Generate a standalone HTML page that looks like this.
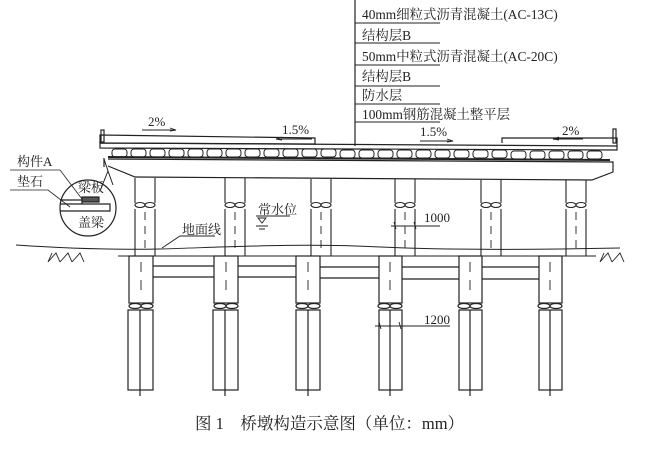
<!DOCTYPE html>
<html><head><meta charset="utf-8"><style>
body{margin:0;background:#fff}
svg{display:block}
text{font-family:"Liberation Serif","Noto Serif CJK SC",serif;fill:#222}
</style></head><body>
<svg width="650" height="449" viewBox="0 0 650 449" xmlns="http://www.w3.org/2000/svg" stroke="#222" fill="none" stroke-width="1.2">
<line x1="355" y1="0" x2="355" y2="146"/>
<g stroke-width="1">
<line x1="355" y1="23" x2="440" y2="23"/>
<line x1="355" y1="43" x2="440" y2="43"/>
<line x1="355" y1="65" x2="440" y2="65"/>
<line x1="355" y1="86" x2="440" y2="86"/>
<line x1="355" y1="104" x2="440" y2="104"/>
<line x1="355" y1="122" x2="440" y2="122"/>
</g>
<g stroke="none" font-size="13.4">
<text x="362" y="19">40mm细粒式沥青混凝土(AC-13C)</text>
<text x="362" y="40">结构层B</text>
<text x="362" y="61">50mm中粒式沥青混凝土(AC-20C)</text>
<text x="362" y="81">结构层B</text>
<text x="362" y="100">防水层</text>
<text x="362" y="119">100mm钢筋混凝土整平层</text>
</g>
<g stroke="none" font-size="13">
<text x="148" y="126">2%</text>
<text x="282" y="134">1.5%</text>
<text x="420" y="136">1.5%</text>
<text x="562" y="135">2%</text>
</g>
<g stroke-width="0.9">
<line x1="142" y1="130" x2="176" y2="130"/><path d="M170,128 L176,130 L170,131"/>
<line x1="276" y1="139" x2="312" y2="139"/><path d="M282,137 L276,139 L282,140"/>
<line x1="420" y1="141" x2="453" y2="141"/><path d="M447,139 L453,141 L447,142"/>
<line x1="553" y1="139" x2="583" y2="139"/><path d="M559,137 L553,139 L559,140"/>
</g>
<rect x="101" y="130" width="3" height="12"/>
<rect x="613" y="129" width="3" height="14"/>
<path d="M100,135 L315,138 L315,144 L100,143 Z"/>
<path d="M502,143 L502,138 L617,138 L617,146"/>
<path d="M100,143 L617,146 L617,150 L100,148 Z"/>
<line x1="108" y1="157" x2="610" y2="160" stroke-width="2"/>
<g stroke-width="1">
<rect x="112" y="149" width="15" height="8" rx="3"/><rect x="131" y="149" width="15" height="8" rx="3"/><rect x="150" y="149" width="15" height="8" rx="3"/><rect x="169" y="149" width="15" height="8" rx="3"/><rect x="188" y="149" width="15" height="8" rx="3"/><rect x="207" y="149" width="15" height="8" rx="3"/><rect x="226" y="149" width="15" height="8" rx="3"/><rect x="245" y="149" width="15" height="8" rx="3"/><rect x="264" y="149" width="15" height="8" rx="3"/><rect x="283" y="149" width="15" height="8" rx="3"/><rect x="302" y="149" width="15" height="8" rx="3"/><rect x="321" y="149" width="15" height="8" rx="3"/><rect x="340" y="150" width="15" height="8" rx="3"/><rect x="359" y="150" width="15" height="8" rx="3"/><rect x="378" y="150" width="15" height="8" rx="3"/><rect x="397" y="150" width="15" height="8" rx="3"/><rect x="416" y="150" width="15" height="8" rx="3"/><rect x="435" y="150" width="15" height="8" rx="3"/><rect x="454" y="150" width="15" height="8" rx="3"/><rect x="473" y="150" width="15" height="8" rx="3"/><rect x="492" y="150" width="15" height="8" rx="3"/><rect x="511" y="151" width="15" height="8" rx="3"/><rect x="530" y="151" width="15" height="8" rx="3"/><rect x="549" y="151" width="15" height="8" rx="3"/><rect x="568" y="151" width="15" height="8" rx="3"/><rect x="587" y="151" width="15" height="8" rx="3"/>
</g>
<path d="M104,158 L104,167 M108,159 L613,162 L613,172 L592,180 L135,177 L108,166"/>
<g stroke-width="1.1">
<g transform="translate(145,0)"><path d="M-10,178 V203 M10,178 V203 M-10,209 V256 M10,209 V256"/><ellipse cx="-5" cy="205" rx="5" ry="2.5"/><ellipse cx="5" cy="205" rx="5" ry="2.5"/><path d="M0,212 v8 M0,226 v8 M0,240 v8" stroke-width="0.9"/></g>
<g transform="translate(235,0)"><path d="M-10,178 V203 M10,178 V203 M-10,209 V256 M10,209 V256"/><ellipse cx="-5" cy="205" rx="5" ry="2.5"/><ellipse cx="5" cy="205" rx="5" ry="2.5"/><path d="M0,212 v8 M0,226 v8 M0,240 v8" stroke-width="0.9"/></g>
<g transform="translate(321,0)"><path d="M-10,179 V203 M10,179 V203 M-10,209 V256 M10,209 V256"/><ellipse cx="-5" cy="205" rx="5" ry="2.5"/><ellipse cx="5" cy="205" rx="5" ry="2.5"/><path d="M0,212 v8 M0,226 v8 M0,240 v8" stroke-width="0.9"/></g>
<g transform="translate(405,0)"><path d="M-10,179 V203 M10,179 V203 M-10,209 V256 M10,209 V256"/><ellipse cx="-5" cy="205" rx="5" ry="2.5"/><ellipse cx="5" cy="205" rx="5" ry="2.5"/><path d="M0,212 v8 M0,226 v8 M0,240 v8" stroke-width="0.9"/></g>
<g transform="translate(491,0)"><path d="M-10,180 V203 M10,180 V203 M-10,209 V256 M10,209 V256"/><ellipse cx="-5" cy="205" rx="5" ry="2.5"/><ellipse cx="5" cy="205" rx="5" ry="2.5"/><path d="M0,212 v8 M0,226 v8 M0,240 v8" stroke-width="0.9"/></g>
<g transform="translate(576,0)"><path d="M-10,180 V203 M10,180 V203 M-10,209 V256 M10,209 V256"/><ellipse cx="-5" cy="205" rx="5" ry="2.5"/><ellipse cx="5" cy="205" rx="5" ry="2.5"/><path d="M0,212 v8 M0,226 v8 M0,240 v8" stroke-width="0.9"/></g>
</g>
<g stroke-width="1.2">
<g transform="translate(141,0)"><rect x="-12" y="256" width="24" height="47"/><ellipse cx="-6" cy="306" rx="6" ry="2.5"/><ellipse cx="6" cy="306" rx="6" ry="2.5"/><rect x="-13" y="310" width="25" height="80"/><line x1="-1" y1="310" x2="-1" y2="396"/><path d="M0,262 v10 M0,280 v10" stroke-width="0.9"/></g>
<g transform="translate(226,0)"><rect x="-12" y="256" width="24" height="47"/><ellipse cx="-6" cy="306" rx="6" ry="2.5"/><ellipse cx="6" cy="306" rx="6" ry="2.5"/><rect x="-13" y="310" width="25" height="80"/><line x1="-1" y1="310" x2="-1" y2="396"/><path d="M0,262 v10 M0,280 v10" stroke-width="0.9"/></g>
<g transform="translate(308,0)"><rect x="-12" y="256" width="24" height="47"/><ellipse cx="-6" cy="306" rx="6" ry="2.5"/><ellipse cx="6" cy="306" rx="6" ry="2.5"/><rect x="-12" y="310" width="24" height="80"/><line x1="0" y1="310" x2="0" y2="396"/><path d="M0,262 v10 M0,280 v10" stroke-width="0.9"/></g>
<g transform="translate(390,0)"><rect x="-11" y="256" width="23" height="47"/><ellipse cx="-6" cy="306" rx="6" ry="2.5"/><ellipse cx="6" cy="306" rx="6" ry="2.5"/><rect x="-11" y="310" width="23" height="80"/><line x1="0" y1="310" x2="0" y2="396"/><path d="M0,262 v10 M0,280 v10" stroke-width="0.9"/></g>
<g transform="translate(470,0)"><rect x="-11" y="256" width="23" height="47"/><ellipse cx="-6" cy="306" rx="6" ry="2.5"/><ellipse cx="6" cy="306" rx="6" ry="2.5"/><rect x="-11" y="310" width="23" height="80"/><line x1="0" y1="310" x2="0" y2="396"/><path d="M0,262 v10 M0,280 v10" stroke-width="0.9"/></g>
<g transform="translate(550,0)"><rect x="-11" y="256" width="23" height="47"/><ellipse cx="-6" cy="306" rx="6" ry="2.5"/><ellipse cx="6" cy="306" rx="6" ry="2.5"/><rect x="-11" y="310" width="23" height="80"/><line x1="0" y1="310" x2="0" y2="396"/><path d="M0,262 v10 M0,280 v10" stroke-width="0.9"/></g>
</g>
<path d="M153,266 H214 M153,277 H214 M238,266 H296 M238,277 H296 M320,267 H379 M320,278 H379 M402,267 H459 M402,279 H459 M482,267 H539 M482,279 H539"/>
<path d="M16,245 C60,248 110,250 160,249 C230,247 300,243 380,247 C440,250 520,250 620,248" stroke-width="1"/>
<path d="M118,256 H596" stroke-width="1"/>
<g stroke-width="0.9">
<path d="M48,262 L56,253 L60,262 M60,262 L68,253 L72,262 M72,262 L80,253 L84,262 M52,253 L48,262"/>
<path d="M600,262 L608,253 L612,262 M612,262 L620,253 L624,262 M604,253 L600,262"/>
</g>
<circle cx="88" cy="208" r="28"/>
<path d="M60,200 H86 M60,204 H82 M82,204 H110 L110,211 H60 M82,200 L82,204"/>
<rect x="82" y="197" width="17" height="5" fill="#555"/>
<path d="M100,191 L108,171 M113,185 L108,171 L104,159" stroke-width="1"/>
<path d="M10,170 H60 L82,199 M10,190 H48 L70,207" stroke-width="0.8"/>
<g stroke="none" font-size="13">
<text x="17" y="166">构件A</text>
<text x="17" y="186">垫石</text>
<text x="78" y="192">梁板</text>
<text x="78" y="227">盖梁</text>
<text x="258" y="214">常水位</text>
<text x="182" y="234">地面线</text>
<text x="424" y="222">1000</text>
<text x="424" y="324">1200</text>
</g>
<path d="M256,216 H290 M162,248 L180,236 H215" stroke-width="0.9"/>
<path d="M258,218 L266,218 L262,223 Z M256,226 H268 M259,229 H265" stroke-width="0.9"/>
<path d="M391,226 H440 M394,222 L396,229 M414,222 L416,229 M375,326 H450 M379,322 L381,329 M399,322 L401,329" stroke-width="0.9"/>
<text x="195" y="429" font-size="16.5" stroke="none">图 1　桥墩构造示意图（单位：mm）</text>
</svg>
</body></html>
